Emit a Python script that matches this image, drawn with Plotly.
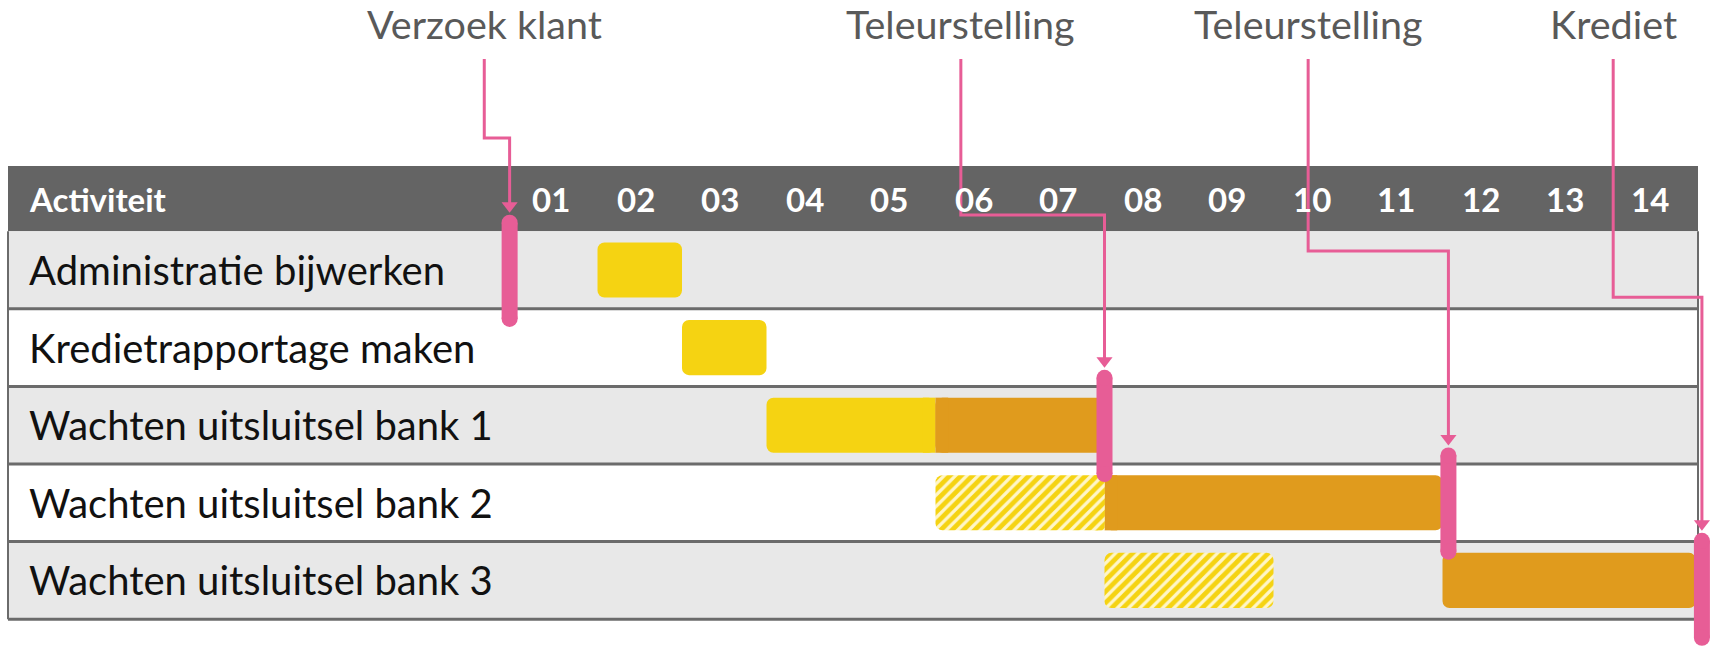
import plotly.graph_objects as go

# ---------------- data ----------------
activities = [
    "Administratie bijwerken",
    "Kredietrapportage maken",
    "Wachten uitsluitsel bank 1",
    "Wachten uitsluitsel bank 2",
    "Wachten uitsluitsel bank 3",
]
weeks = ["01", "02", "03", "04", "05", "06", "07", "08", "09", "10", "11", "12", "13", "14"]
header_label = "Activiteit"

# planned work (solid yellow): row index, start, end (0 = start of week 01)
plan_rows = [0, 1, 2]
plan_start = [1, 2, 3]
plan_end = [2, 3, 5]

# waiting beyond plan (orange)
delay_rows = [2, 3, 4]
delay_start = [5, 7, 11]
delay_end = [7, 11, 14]

# originally planned period (hatched yellow)
orig_rows = [3, 4]
orig_start = [5, 7]
orig_end = [7, 9]

# events (pink markers)
event_labels = ["Verzoek klant", "Teleurstelling", "Teleurstelling", "Krediet"]
event_rows = [0, 2, 3, 4]
event_x = [-0.04, 7.0, 11.07, 14.07]
event_top = [-0.61, -0.61, -0.61, -0.51]      # relative to row centre
event_bottom = [0.63, 0.63, 0.63, 0.74]
event_label_x = [-0.34, 5.30, 9.41, 13.02]
event_elbow_y = [-1.70, -0.71, -0.245, 0.35]

# ---------------- style ----------------
YELLOW = "#F5D312"
HATCH_BG = "#FFF6C8"
ORANGE = "#E09B1D"
PINK = "#E75D96"
HEADER = "#646464"
ROWBG = "#E8E8E8"
LINE = "#6B6B6B"
FONT = "Lato"

X_RANGE = [-513 / 84.5, (1710 - 513) / 84.5]
Y_RANGE = [(647 - 270) / 77.6, -270 / 77.6]
TABLE_L = (8 - 513) / 84.5
TABLE_R = (1698 - 513) / 84.5
HEADER_TOP = (166 - 270) / 77.6
BAR_W = 0.71
RADIUS = 7
PATCH = 0.15

fig = go.Figure()

all_segs = ([(r, s, e) for r, s, e in zip(plan_rows, plan_start, plan_end)]
            + [(r, s, e) for r, s, e in zip(delay_rows, delay_start, delay_end)]
            + [(r, s, e) for r, s, e in zip(orig_rows, orig_start, orig_end)])


def add_bars(rows, starts, ends, color, hatched=False):
    if hatched:
        def mk(rad):
            return dict(color=HATCH_BG, line=dict(width=0), cornerradius=rad,
                        pattern=dict(shape="/", fgcolor=color, bgcolor=HATCH_BG,
                                     fgopacity=1, size=8, solidity=0.6))
    else:
        def mk(rad):
            return dict(color=color, line=dict(width=0), cornerradius=rad)
    lens = [e - s for s, e in zip(starts, ends)]
    fig.add_trace(go.Bar(orientation="h", y=rows, x=lens, base=starts, width=BAR_W,
                         marker=mk(RADIUS), showlegend=False, hoverinfo="skip"))
    # square-off ends that touch a neighbouring segment
    pr, pb = [], []
    for r, s, e in zip(rows, starts, ends):
        if any(rr == r and ee == s for rr, ss, ee in all_segs):
            pr.append(r); pb.append(s)
        if any(rr == r and ss == e for rr, ss, ee in all_segs):
            pr.append(r); pb.append(e - PATCH)
    if pr:
        fig.add_trace(go.Bar(orientation="h", y=pr, x=[PATCH] * len(pr), base=pb,
                             width=BAR_W, marker=mk(0), showlegend=False,
                             hoverinfo="skip"))


add_bars(plan_rows, plan_start, plan_end, YELLOW)
add_bars(delay_rows, delay_start, delay_end, ORANGE)
add_bars(orig_rows, orig_start, orig_end, YELLOW, hatched=True)

# connectors, arrowheads and event markers
cx, cy = [], []
ax_, ay_ = [], []
mx, my = [], []
for r, ex, lx, ey, t, b in zip(event_rows, event_x, event_label_x, event_elbow_y,
                               event_top, event_bottom):
    tri = r + t - 0.129 - 0.09
    cx += [lx, lx, ex, ex, None]
    cy += [-2.72, ey, ey, tri, None]
    ax_.append(ex); ay_.append(tri)
    mx += [ex, ex, None]
    my += [r + t, r + b, None]

fig.add_trace(go.Scatter(x=cx, y=cy, mode="lines", line=dict(color=PINK, width=3),
                         showlegend=False, hoverinfo="skip"))
fig.add_trace(go.Scatter(x=ax_, y=ay_, mode="markers",
                         marker=dict(symbol="triangle-down", size=14, color=PINK),
                         showlegend=False, hoverinfo="skip"))
fig.add_trace(go.Scatter(x=mx, y=my, mode="lines+markers", line=dict(color=PINK, width=16),
                         marker=dict(symbol="circle", size=16, color=PINK),
                         showlegend=False, hoverinfo="skip"))

# table shapes
shapes = [dict(type="rect", xref="x", yref="y", x0=TABLE_L, x1=TABLE_R, y0=HEADER_TOP, y1=-0.5,
               fillcolor=HEADER, line=dict(width=0), layer="below")]
for i in range(len(activities)):
    if i % 2 == 0:
        shapes.append(dict(type="rect", xref="x", yref="y", x0=TABLE_L, x1=TABLE_R,
                           y0=i - 0.5, y1=i + 0.5, fillcolor=ROWBG, line=dict(width=0),
                           layer="below"))
for i in range(len(activities)):
    shapes.append(dict(type="line", xref="x", yref="y", x0=TABLE_L, x1=TABLE_R,
                       y0=i + 0.5, y1=i + 0.5, line=dict(color=LINE, width=3), layer="below"))
for xb in (TABLE_L, TABLE_R):
    shapes.append(dict(type="line", xref="x", yref="y", x0=xb, x1=xb, y0=-0.5,
                       y1=len(activities) - 0.5, line=dict(color=LINE, width=2), layer="below"))

annotations = []
for i, a in enumerate(activities):
    annotations.append(dict(x=(27 - 513) / 84.5, y=i, xref="x", yref="y", text=a,
                            showarrow=False, xanchor="left", yanchor="middle",
                            font=dict(family=FONT, size=40, color="#111111")))
annotations.append(dict(x=(27 - 513) / 84.5, y=-0.91, xref="x", yref="y",
                        text="<b>" + header_label + "</b>", showarrow=False,
                        xanchor="left", yanchor="middle",
                        font=dict(family=FONT, size=33, color="white")))
for i, w in enumerate(weeks):
    annotations.append(dict(x=i + 0.45, y=-0.91, xref="x", yref="y", text="<b>" + w + "</b>",
                            showarrow=False, xanchor="center", yanchor="middle",
                            font=dict(family=FONT, size=33, color="white")))
for lab, lx in zip(event_labels, event_label_x):
    annotations.append(dict(x=lx, y=(23 - 270) / 77.6, xref="x", yref="y", text=lab,
                            showarrow=False, xanchor="center", yanchor="middle",
                            font=dict(family=FONT, size=39.5, color="#595959")))

fig.update_layout(
    width=1710, height=647, autosize=False,
    margin=dict(l=0, r=0, t=0, b=0),
    paper_bgcolor="white", plot_bgcolor="white",
    barmode="overlay",
    shapes=shapes, annotations=annotations,
    xaxis=dict(range=X_RANGE, visible=False, fixedrange=True),
    yaxis=dict(range=Y_RANGE, visible=False, fixedrange=True),
    showlegend=False,
)

fig.write_html("out.html", config={"displayModeBar": False},
               post_script="document.body.style.margin='0';document.body.style.overflow='hidden';")
